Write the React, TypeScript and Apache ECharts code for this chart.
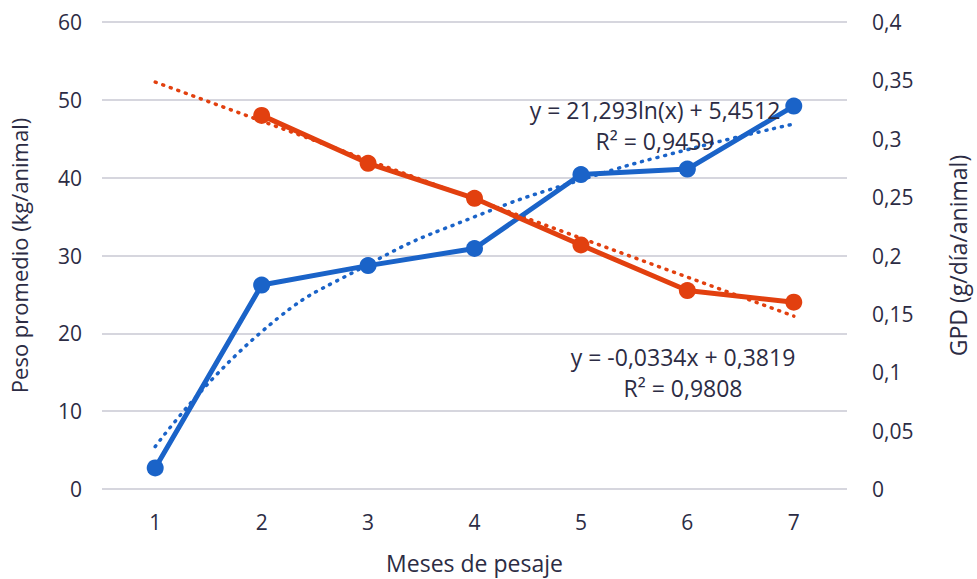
import React, { useEffect, useRef } from "react";
import * as echarts from "echarts";

const months = ["1", "2", "3", "4", "5", "6", "7"];
const pesoPromedio = [2.7, 26.2, 28.7, 30.9, 40.4, 41.1, 49.2];
const gpd = [null, 0.32, 0.279, 0.249, 0.209, 0.17, 0.16];
const pesoTrend = [5.45, 20.21, 28.84, 34.97, 39.72, 43.6, 46.89];
const gpdTrend = [0.3485, 0.3151, 0.2817, 0.2483, 0.2149, 0.1815, 0.1481];
const leftTicks = [0, 10, 20, 30, 40, 50, 60];
const rightTicks = [0, 0.05, 0.1, 0.15, 0.2, 0.25, 0.3, 0.35, 0.4];
const pesoEq = ["y = 21,293ln(x) + 5,4512", "R² = 0,9459"];
const gpdEq = ["y = -0,0334x + 0,3819", "R² = 0,9808"];

const BLUE = "#1a63c8";
const RED = "#e2400f";
const TEXT = "#2c2c44";
const GRID = "#c9c9d3";
const FONT = "'Open Sans', sans-serif";

export default function App() {
  const ref = useRef<HTMLDivElement>(null);
  useEffect(() => {
    document.body.style.margin = "0";
    const chart = echarts.init(ref.current!, null, { renderer: "svg" });
    const fmt = (v: number) => String(v).replace(".", ",");
    chart.setOption({
      animation: false,
      textStyle: { fontFamily: FONT },
      grid: { left: 100, right: 114, top: 22, bottom: 89, containLabel: false },
      xAxis: {
        type: "category",
        data: months,
        boundaryGap: true,
        axisLine: { show: false },
        axisTick: { show: false },
        axisLabel: { color: TEXT, fontSize: 21, fontFamily: FONT, margin: 22 },
        name: "Meses de pesaje",
        nameLocation: "middle",
        nameGap: 62,
        nameTextStyle: { color: TEXT, fontSize: 23, fontFamily: FONT },
      },
      yAxis: [
        {
          type: "value",
          min: leftTicks[0],
          max: leftTicks[leftTicks.length - 1],
          interval: 10,
          axisLine: { show: false },
          axisTick: { show: false },
          splitLine: { lineStyle: { color: GRID, width: 1.5 } },
          axisLabel: { color: TEXT, fontSize: 21, fontFamily: FONT, margin: 20 },
          name: "Peso promedio (kg/animal)",
          nameLocation: "middle",
          nameRotate: 90,
          nameGap: 72,
          nameTextStyle: { color: TEXT, fontSize: 22, fontFamily: FONT },
        },
        {
          type: "value",
          min: rightTicks[0],
          max: rightTicks[rightTicks.length - 1],
          interval: 0.05,
          axisLine: { show: false },
          axisTick: { show: false },
          splitLine: { show: false },
          axisLabel: {
            color: TEXT,
            fontSize: 21,
            fontFamily: FONT,
            margin: 25,
            formatter: (v: number) => fmt(Math.round(v * 100) / 100),
          },
          name: "GPD (g/día/animal)",
          nameLocation: "middle",
          nameRotate: 90,
          nameGap: 99,
          nameTextStyle: { color: TEXT, fontSize: 23, fontFamily: FONT },
        },
      ],
      series: [
        {
          name: "Tendencia peso",
          type: "line",
          yAxisIndex: 0,
          data: pesoTrend,
          smooth: 0.5,
          showSymbol: false,
          lineStyle: { color: BLUE, width: 3.5, type: [1, 7], cap: "round" },
          z: 1,
        },
        {
          name: "Tendencia GPD",
          type: "line",
          yAxisIndex: 1,
          data: gpdTrend,
          showSymbol: false,
          lineStyle: { color: RED, width: 3.5, type: [1, 7], cap: "round" },
          z: 1,
        },
        {
          name: "Peso promedio",
          type: "line",
          yAxisIndex: 0,
          data: pesoPromedio,
          symbol: "circle",
          symbolSize: 17,
          lineStyle: { color: BLUE, width: 5 },
          itemStyle: { color: BLUE },
          z: 3,
        },
        {
          name: "GPD",
          type: "line",
          yAxisIndex: 1,
          data: gpd,
          symbol: "circle",
          symbolSize: 17,
          lineStyle: { color: RED, width: 5 },
          itemStyle: { color: RED },
          z: 3,
        },
      ],
      graphic: [
        ...pesoEq.map((t, i) => ({
          type: "text",
          x: 655,
          y: 110 + i * 31,
          style: {
            text: t,
            fill: TEXT,
            font: `23px ${FONT}`,
            textAlign: "center",
            textVerticalAlign: "middle",
          },
          z: 10,
        })),
        ...gpdEq.map((t, i) => ({
          type: "text",
          x: 683,
          y: 357 + i * 31,
          style: {
            text: t,
            fill: TEXT,
            font: `23px ${FONT}`,
            textAlign: "center",
            textVerticalAlign: "middle",
          },
          z: 10,
        })),
      ],
    });
    return () => chart.dispose();
  }, []);
  return <div ref={ref} style={{ width: 977, height: 579 }} />;
}
